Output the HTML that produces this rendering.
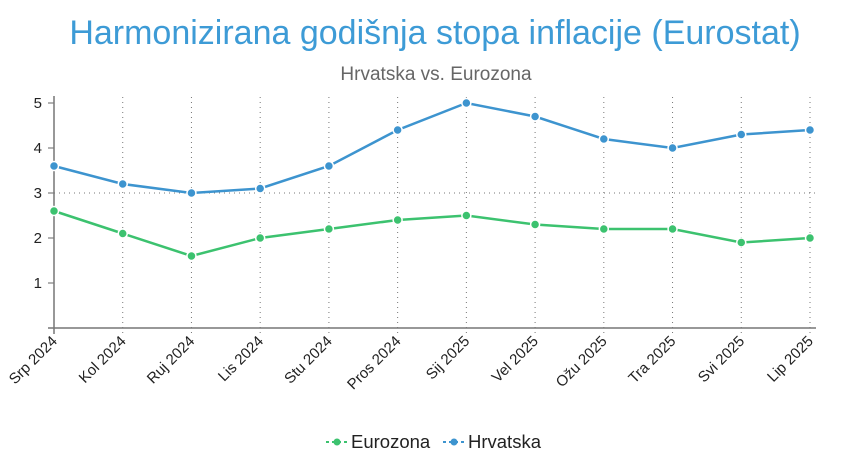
<!DOCTYPE html>
<html><head><meta charset="utf-8"><style>
body{margin:0;background:#fff;width:846px;height:456px;overflow:hidden;font-family:"Liberation Sans",sans-serif;}
</style></head><body>
<svg width="846" height="456" id="chart">
<text x="435" y="44" text-anchor="middle" font-size="34" fill="#3d9bd6">Harmonizirana godišnja stopa inflacije (Eurostat)</text>
<text x="436" y="80" text-anchor="middle" font-size="19" fill="#666">Hrvatska vs. Eurozona</text>
<g id="grid"></g><g id="axes"></g><g id="series"></g>
<g>
<g>
<line x1="326" y1="442" x2="347" y2="442" stroke="#3cc26f" stroke-width="2" stroke-dasharray="3,3"/>
<circle cx="337" cy="442" r="3.5" fill="#3cc26f"/>
<text x="351" y="448" font-size="18.5" fill="#222">Eurozona</text></g>
<g>
<line x1="443" y1="442" x2="464" y2="442" stroke="#3d94cf" stroke-width="2" stroke-dasharray="3,3"/>
<circle cx="454" cy="442" r="3.5" fill="#3d94cf"/>
<text x="468" y="448" font-size="18.5" fill="#222">Hrvatska</text></g>
</g>
</svg>
<script>
const categories=["Srp 2024","Kol 2024","Ruj 2024","Lis 2024","Stu 2024","Pros 2024","Sij 2025","Vel 2025","Ožu 2025","Tra 2025","Svi 2025","Lip 2025"];
const hrvatska=[3.6,3.2,3.0,3.1,3.6,4.4,5.0,4.7,4.2,4.0,4.3,4.4];
const eurozona=[2.6,2.1,1.6,2.0,2.2,2.4,2.5,2.3,2.2,2.2,1.9,2.0];
const yTicks=[1,2,3,4,5];
const NS="http://www.w3.org/2000/svg";
const x0=54,x1=810,y0=328,yPer=45;
const xs=i=>x0+i*(x1-x0)/(categories.length-1);
const ys=v=>y0-v*yPer;
function mk(t,a,p){const e=document.createElementNS(NS,t);for(const k in a)e.setAttribute(k,a[k]);p.appendChild(e);return e;}
const grid=document.getElementById('grid'),axes=document.getElementById('axes'),ser=document.getElementById('series');
categories.forEach((c,i)=>{
 if(i>0){const g=mk('line',{x1:xs(i),x2:xs(i),y1:97,y2:334,stroke:'#777','stroke-width':1,'stroke-dasharray':'1,4'},grid);
 
 }
 const t=mk('text',{x:xs(i)+4,y:342,'text-anchor':'end','font-size':15,fill:'#222',transform:`rotate(-45 ${xs(i)+4} 342)`},axes);
 t.textContent=c;
 
 
});
const g3=mk('line',{x1:x0,x2:816,y1:ys(3),y2:ys(3),stroke:'#777','stroke-width':1,'stroke-dasharray':'1,4'},grid);


yTicks.forEach(v=>{
 mk('line',{x1:48,x2:54,y1:ys(v),y2:ys(v),stroke:'#666'},axes);
 const t=mk('text',{x:42,y:ys(v)+5,'text-anchor':'end','font-size':15,fill:'#222'},axes);
 t.textContent=v;
 
 
});
const ya=mk('line',{x1:x0,x2:x0,y1:96,y2:334,stroke:'#777','stroke-width':1.5},axes);


const xa=mk('line',{x1:48,x2:816,y1:y0,y2:y0,stroke:'#777','stroke-width':1.5},axes);


function draw(vals,color,name){
 const p=mk('polyline',{points:vals.map((v,i)=>xs(i)+','+ys(v)).join(' '),fill:'none',stroke:color,'stroke-width':2.5},ser);
 
 
 vals.forEach((v,i)=>{
  const c=mk('circle',{cx:xs(i),cy:ys(v),r:4.5,fill:color,stroke:'#fff','stroke-width':1.5},ser);
  
  
 });
}
draw(eurozona,'#3cc26f','eurozona');
draw(hrvatska,'#3d94cf','hrvatska');
</script>
</body></html>
